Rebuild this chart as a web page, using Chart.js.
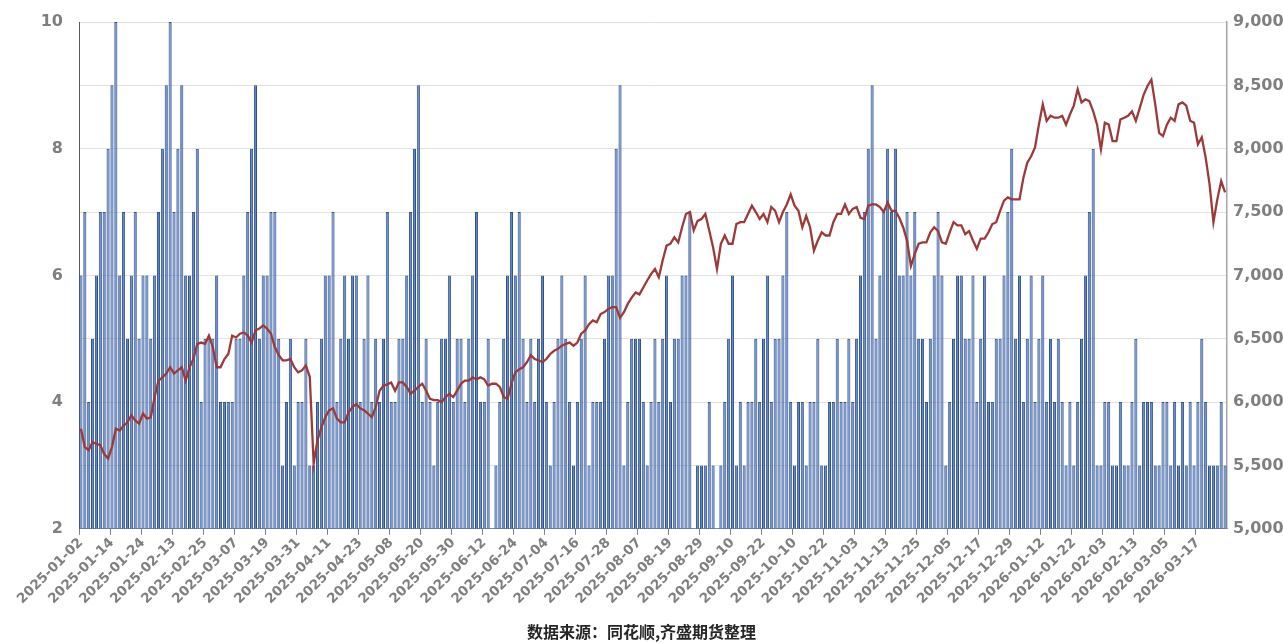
<!DOCTYPE html>
<html>
<head>
<meta charset="utf-8">
<script src="https://cdn.jsdelivr.net/npm/chart.js@4.4.0/dist/chart.umd.min.js"></script>
<style>
  html, body { margin: 0; padding: 0; background: #fff; }
  #wrap { width: 1283px; height: 643px; }
</style>
</head>
<body>
<div id="wrap"><canvas id="chart" width="1283" height="643"></canvas></div>
<script>
// exchange closing days, used to build the trading-day axis
var holidays = [
  '2025-01-01', '2025-01-28', '2025-01-29', '2025-01-30', '2025-01-31', '2025-02-03', '2025-02-04',
  '2025-04-04', '2025-05-01', '2025-05-02', '2025-05-05', '2025-06-02',
  '2025-10-01', '2025-10-02', '2025-10-03', '2025-10-06', '2025-10-07', '2025-10-08',
  '2026-01-01', '2026-01-02', '2026-02-16', '2026-02-17', '2026-02-18', '2026-02-19',
  '2026-02-20', '2026-02-23'
];

var dates = [];
(function () {
  var d = new Date(Date.UTC(2025, 0, 2));
  while (dates.length < 296) {
    var s = d.toISOString().slice(0, 10);
    var wd = d.getUTCDay();
    if (wd !== 0 && wd !== 6 && holidays.indexOf(s) < 0) dates.push(s);
    d.setUTCDate(d.getUTCDate() + 1);
  }
})();

// left axis series (bars)
var barValues = [
  6, 7, 4, 5, 6, 7, 7, 8, 9, 10,
  6, 7, 5, 6, 7, 5, 6, 6, 5, 6,
  7, 8, 9, 10, 7, 8, 9, 6, 6, 7,
  8, 4, 5, 5, 5, 6, 4, 4, 4, 4,
  5, 5, 6, 7, 8, 9, 5, 6, 6, 7,
  7, 5, 3, 4, 5, 3, 4, 4, 5, 3,
  3, 4, 5, 6, 6, 7, 4, 5, 6, 5,
  6, 6, 4, 5, 6, 4, 5, 4, 5, 7,
  4, 4, 5, 5, 6, 7, 8, 9, 4, 5,
  4, 3, 4, 5, 5, 6, 4, 5, 5, 4,
  5, 6, 7, 4, 4, 5, null, 3, 4, 5,
  6, 7, 6, 7, 5, 4, 5, 4, 5, 6,
  4, 3, 4, 5, 6, 5, 4, 3, 4, 5,
  6, 3, 4, 4, 4, 5, 6, 6, 8, 9,
  3, 4, 5, 5, 5, 4, 3, 4, 5, 4,
  5, 6, 4, 5, 5, 6, 6, 7, null, 3,
  3, 3, 4, 3, null, 3, 4, 5, 6, 3,
  4, 3, 4, 4, 5, 4, 5, 6, 4, 5,
  5, 6, 7, 4, 3, 4, 4, 3, 4, 4,
  5, 3, 3, 4, 4, 5, 4, 4, 5, 4,
  5, 6, 7, 8, 9, 5, 6, 7, 8, 7,
  8, 6, 6, 7, 6, 7, 5, 5, 4, 5,
  6, 7, 6, 3, 4, 5, 6, 6, 5, 5,
  6, 4, 5, 6, 4, 4, 5, 5, 6, 7,
  8, 5, 6, 4, 5, 6, 4, 5, 6, 4,
  5, 4, 5, 4, 3, 4, 3, 4, 5, 6,
  7, 8, 3, 3, 4, 4, 3, 3, 4, 3,
  3, 4, 5, 3, 4, 4, 4, 3, 3, 4,
  4, 3, 4, 3, 4, 3, 4, 3, 4, 5,
  4, 3, 3, 3, 4, 3
];

// right axis series (line)
var lineValues = [
  5790, 5645, 5620, 5685, 5670, 5660, 5590, 5555, 5645, 5790,
  5775, 5815, 5840, 5895, 5855, 5830, 5910, 5870, 5880, 6040,
  6170, 6195, 6225, 6275, 6225, 6250, 6275, 6170, 6275, 6340,
  6460, 6470, 6460, 6525, 6435, 6275, 6275, 6340, 6380, 6525,
  6510, 6540, 6550, 6525, 6470, 6565, 6580, 6605, 6580, 6540,
  6435, 6370, 6330, 6330, 6340, 6275, 6235, 6250, 6290, 6200,
  5515, 5700, 5800, 5880, 5935, 5950, 5870, 5840, 5840, 5920,
  5960, 5985, 5950, 5935, 5910, 5880, 5960, 6090, 6130, 6140,
  6155, 6090, 6155, 6155, 6120, 6065, 6090, 6120, 6145, 6090,
  6025, 6015, 6015, 6000, 6040, 6065, 6040, 6090, 6145, 6170,
  6170, 6195, 6180, 6195, 6180, 6130, 6145, 6145, 6120, 6040,
  6025, 6145, 6235, 6260, 6275, 6315, 6370, 6340, 6330, 6315,
  6340, 6380, 6405, 6420, 6445, 6460, 6470, 6445, 6470, 6540,
  6565, 6615, 6645, 6630, 6695, 6710, 6735, 6750, 6750, 6665,
  6710, 6775, 6825, 6865, 6850, 6905, 6960, 7010, 7050, 6985,
  7120, 7235, 7250, 7300, 7260, 7380, 7485, 7500, 7355, 7430,
  7445, 7485, 7355, 7220, 7050, 7250, 7315, 7250, 7250, 7405,
  7420, 7420, 7485, 7550, 7500, 7445, 7485, 7420, 7540, 7510,
  7420, 7500, 7560, 7640, 7550, 7510, 7380, 7470, 7380, 7195,
  7275, 7340, 7315, 7315, 7420, 7485, 7485, 7560, 7485, 7525,
  7540, 7455, 7445, 7550, 7560, 7560, 7540, 7500, 7575, 7510,
  7510, 7455, 7380, 7275, 7075, 7170, 7250, 7260, 7260, 7340,
  7380, 7350, 7260, 7250, 7340, 7420, 7395, 7395, 7325, 7350,
  7275, 7210, 7290, 7290, 7340, 7405, 7420, 7510, 7590, 7615,
  7600, 7600, 7600, 7770, 7890, 7940, 8010, 8190, 8350, 8220,
  8260, 8245, 8245, 8260, 8190, 8270, 8340, 8470, 8365, 8390,
  8375, 8295, 8190, 7995, 8205, 8190, 8060, 8060, 8230, 8245,
  8260, 8295, 8220, 8320, 8425, 8495, 8545, 8350, 8125, 8100,
  8190, 8245, 8220, 8350, 8365, 8340, 8220, 8205, 8035, 8090,
  7930, 7720, 7420, 7600, 7745, 7655
];

var labelEvery = 8;
var sourceText = '数据来源：同花顺,齐盛期货整理';

var tickFont = { family: 'DejaVu Sans', weight: 'bold', size: 13.5 };
var axisFont = { family: 'DejaVu Sans', weight: 'bold', size: 16 };
var tickColor = '#7f7f7f';

new Chart(document.getElementById('chart'), {
  type: 'bar',
  data: {
    labels: dates,
    datasets: [
      {
        type: 'line',
        data: lineValues,
        yAxisID: 'y1',
        borderColor: '#9c3a3a',
        borderWidth: 2.3,
        pointRadius: 0,
        tension: 0,
        order: 0
      },
      {
        type: 'bar',
        data: barValues,
        yAxisID: 'y',
        backgroundColor: '#5f86c6',
        borderColor: '#30508c',
        borderWidth: 1,
        barPercentage: 0.8,
        categoryPercentage: 1,
        order: 1
      }
    ]
  },
  options: {
    responsive: false,
    animation: false,
    layout: { padding: { top: 22, left: 0, right: 0, bottom: 0 } },
    plugins: {
      legend: { display: false },
      tooltip: { enabled: false },
      title: {
        display: true,
        position: 'bottom',
        text: sourceText,
        color: '#262626',
        font: { family: 'Noto Sans CJK SC', weight: 'bold', size: 16 },
        padding: { top: 0, bottom: 1 }
      }
    },
    scales: {
      x: {
        offset: true,
        grid: {
          offset: true,
          drawOnChartArea: false,
          drawTicks: true,
          tickLength: 6,
          color: function (ctx) { return ctx.index % labelEvery === 0 ? '#808080' : 'rgba(0,0,0,0)'; }
        },
        border: { display: true, color: '#8c8c8c', width: 1 },
        ticks: {
          autoSkip: false,
          maxRotation: 45,
          minRotation: 45,
          padding: 0,
          color: tickColor,
          font: tickFont,
          callback: function (v, i) { return i % labelEvery === 0 ? dates[i] : ''; }
        },
        afterFit: function (s) { s.height = 94; }
      },
      y: {
        position: 'left',
        min: 2,
        max: 10,
        ticks: { stepSize: 2, padding: 8, color: tickColor, font: axisFont },
        grid: { display: false },
        border: { display: true, color: '#595959', width: 1 },
        afterFit: function (s) { s.width = 79; }
      },
      y1: {
        position: 'right',
        min: 5000,
        max: 9000,
        ticks: {
          stepSize: 500,
          padding: 6,
          color: tickColor,
          font: axisFont,
          callback: function (v) { return v.toLocaleString('en-US'); }
        },
        grid: { color: '#e2e2e2', drawTicks: false },
        border: { display: true, color: '#a6a6a6', width: 1.5 },
        afterFit: function (s) { s.width = 56; }
      }
    }
  }
});
</script>
</body>
</html>
